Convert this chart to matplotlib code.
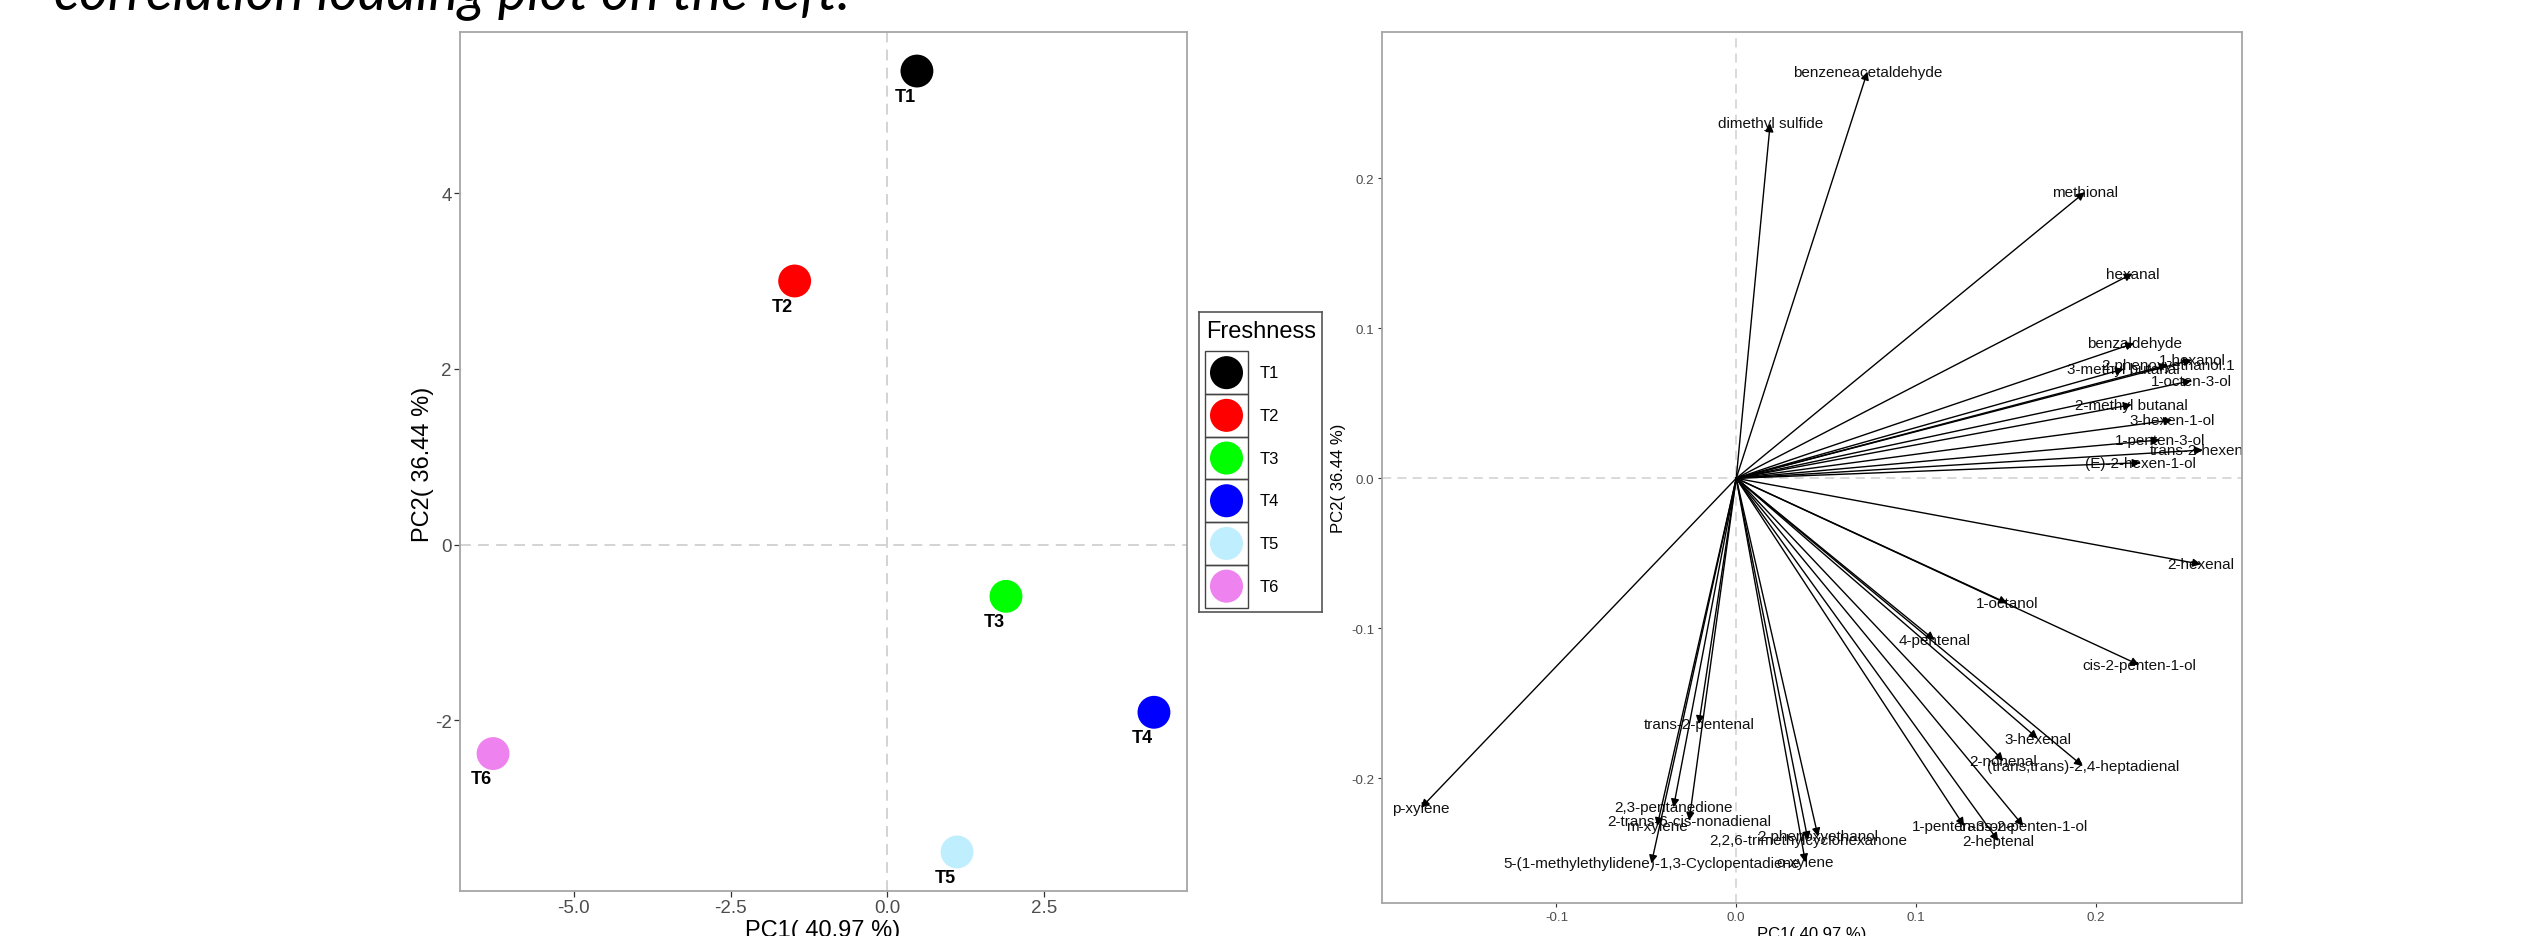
import matplotlib
matplotlib.use('Agg')
import matplotlib.pyplot as plt
from matplotlib.patches import Rectangle

# ---------------- data ----------------
groups = ['T1', 'T2', 'T3', 'T4', 'T5', 'T6']
pc1_scores = [0.47, -1.48, 1.89, 4.25, 1.11, -6.29]
pc2_scores = [5.39, 3.00, -0.59, -1.91, -3.50, -2.38]
group_colors = ['#000000', '#FF0000', '#00FF00', '#0000FF', '#BFEFFF', '#EE82EE']

variables = [
    'benzeneacetaldehyde', 'dimethyl sulfide', 'methional', 'hexanal',
    'benzaldehyde', '1-hexanol', '2-phenoxyethanol.1', '3-methyl butanal',
    '1-octen-3-ol', '2-methyl butanal', '3-hexen-1-ol', '1-penten-3-ol',
    'trans-2-hexenal', '(E)-2-hexen-1-ol', '2-hexenal', '1-octanol',
    '4-pentenal', 'cis-2-penten-1-ol', '3-hexenal', '2-nonenal',
    '(trans,trans)-2,4-heptadienal', '1-penten-3-one', 'trans-2-penten-1-ol',
    '2-heptenal', 'trans-2-pentenal', '2,3-pentanedione',
    '2-trans-6-cis-nonadienal', 'm-xylene', '2,2,6-trimethylcyclohexanone',
    '2-phenoxyethanol', '5-(1-methylethylidene)-1,3-Cyclopentadiene',
    'o-xylene', 'p-xylene']
loading_pc1 = [
    0.0730, 0.0189, 0.1939, 0.2205,
    0.2213, 0.2535, 0.2400, 0.2156,
    0.2533, 0.2200, 0.2425, 0.2358,
    0.2596, 0.2249, 0.2585, 0.1508,
    0.1103, 0.2241, 0.1677, 0.1486,
    0.1928, 0.1268, 0.1597,
    0.1458, -0.0208, -0.0349,
    -0.0262, -0.0440, 0.0399,
    0.0455, -0.0472,
    0.0385, -0.1753]
loading_pc2 = [
    0.2711, 0.2365, 0.1907, 0.1365,
    0.0900, 0.0789, 0.0756, 0.0729,
    0.0651, 0.0491, 0.0389, 0.0256,
    0.0189, 0.0104, -0.0573, -0.0833,
    -0.1078, -0.1244, -0.1735, -0.1885,
    -0.1918, -0.2318, -0.2318,
    -0.2418, -0.1638, -0.2193,
    -0.2282, -0.2318, -0.2411,
    -0.2387, -0.2567,
    -0.2560, -0.2196]

x_title = 'PC1( 40.97 %)'
y_title = 'PC2( 36.44 %)'
legend_title = 'Freshness'
heading = 'correlation loading plot on the left.'

score_xticks = [-5.0, -2.5, 0.0, 2.5]
score_xticklabels = ['-5.0', '-2.5', '0.0', '2.5']
score_yticks = [-2, 0, 2, 4]
score_yticklabels = ['-2', '0', '2', '4']
load_xticks = [-0.1, 0.0, 0.1, 0.2]
load_xticklabels = ['-0.1', '0.0', '0.1', '0.2']
load_yticks = [-0.2, -0.1, 0.0, 0.1, 0.2]
load_yticklabels = ['-0.2', '-0.1', '0.0', '0.1', '0.2']

# ---------------- figure ----------------
plt.rcParams['font.family'] = ['Liberation Sans', 'DejaVu Sans']
W, H = 2526, 937
fig = plt.figure(figsize=(W / 100, H / 100), dpi=100)


def px_rect(x0, y0, x1, y1):
    return [x0 / W, 1 - y1 / H, (x1 - x0) / W, (y1 - y0) / H]


def expand(vals, frac=0.05):
    lo, hi = min(vals), max(vals)
    r = hi - lo
    return lo - frac * r, hi + frac * r


SPINE = '#A6A6A6'
ZERO = '#D0D0D0'
TICKTXT = '#4D4D4D'

# heading (cut off at the top, as in the reference)
fig.text(54 / W, 1 - 9 / H, heading, fontsize=40, style='italic',
         family=['Lato', 'DejaVu Sans'], weight='normal', va='baseline',
         ha='left', color='#000000')

# ---------------- left: score plot ----------------
ax1 = fig.add_axes(px_rect(460, 33, 1187, 892))
ax1.set_xlim(*expand(pc1_scores))
ax1.set_ylim(*expand(pc2_scores))
ax1.axhline(0, color=ZERO, lw=1.3, ls=(0, (6, 4)), zorder=1)
ax1.axvline(0, color=ZERO, lw=1.3, ls=(0, (6, 4)), zorder=1)
ax1.scatter(pc1_scores, pc2_scores, s=560, c=group_colors,
            edgecolors='none', zorder=3)
for g, x, y in zip(groups, pc1_scores, pc2_scores):
    ax1.annotate(g, (x, y), xytext=(-8.6, -18.3), textcoords='offset points',
                 ha='center', va='center', fontsize=13, fontweight='bold',
                 color='black', zorder=4)
ax1.set_xticks(score_xticks)
ax1.set_xticklabels(score_xticklabels)
ax1.set_yticks(score_yticks)
ax1.set_yticklabels(score_yticklabels)
ax1.tick_params(labelsize=13.5, labelcolor=TICKTXT, color='#333333',
                length=4.3, width=0.9, pad=1.5)
for sp in ax1.spines.values():
    sp.set_color(SPINE)
    sp.set_linewidth(1.3)
fig.text(823 / W, 1 - 920 / H, x_title, ha='center', va='top', fontsize=17)
fig.text(423 / W, 1 - 464 / H, y_title, ha='center', va='center',
         rotation=90, fontsize=17)

# ---------------- legend ----------------
lax = fig.add_axes(px_rect(1199, 313, 1322, 613))
lax.set_xlim(0, 123)
lax.set_ylim(300, 0)
lax.set_xticks([])
lax.set_yticks([])
for sp in lax.spines.values():
    sp.set_color('#555555')
    sp.set_linewidth(1.2)
lax.text(7, 24.7, legend_title, fontsize=17, va='baseline', ha='left')
row_top, row_h = 39.3, 42.7
for i, (g, c) in enumerate(zip(groups, group_colors)):
    y0 = row_top + i * row_h
    lax.add_patch(Rectangle((6, y0), 43, row_h, fill=False,
                            edgecolor='#444444', lw=1.0))
    lax.scatter([27.5], [y0 + row_h / 2], s=566, c=[c], edgecolors='none')
    lax.text(61, y0 + row_h / 2, g, fontsize=12, va='center', ha='left')

# ---------------- right: loading plot ----------------
ax2 = fig.add_axes(px_rect(1382, 33, 2242, 904))
ax2.set_xlim(*expand(loading_pc1 + [0.0]))
ax2.set_ylim(*expand(loading_pc2 + [0.0]))
ax2.axhline(0, color=ZERO, lw=1.1, ls=(0, (6, 4)), zorder=1)
ax2.axvline(0, color=ZERO, lw=1.1, ls=(0, (6, 4)), zorder=1)
for name, x, y in zip(variables, loading_pc1, loading_pc2):
    ax2.text(x, y, name, ha='center', va='center', fontsize=11,
             color='#111111', clip_on=True, zorder=2)
for x, y in zip(loading_pc1, loading_pc2):
    ax2.annotate('', xy=(x, y), xytext=(0, 0),
                 arrowprops=dict(arrowstyle='-|>', lw=1.0, color='#000000',
                                 mutation_scale=12, shrinkA=0, shrinkB=0),
                 zorder=3)
ax2.set_xticks(load_xticks)
ax2.set_xticklabels(load_xticklabels)
ax2.set_yticks(load_yticks)
ax2.set_yticklabels(load_yticklabels)
ax2.tick_params(labelsize=9.6, labelcolor=TICKTXT, color='#333333',
                length=2.6, width=0.8, pad=3)
for sp in ax2.spines.values():
    sp.set_color(SPINE)
    sp.set_linewidth(1.3)
fig.text(1812 / W, 1 - 927 / H, x_title, ha='center', va='top', fontsize=12)
fig.text(1339 / W, 1 - 478 / H, y_title, ha='center', va='center',
         rotation=90, fontsize=12)

fig.savefig('out.png', dpi=100, facecolor='white')
